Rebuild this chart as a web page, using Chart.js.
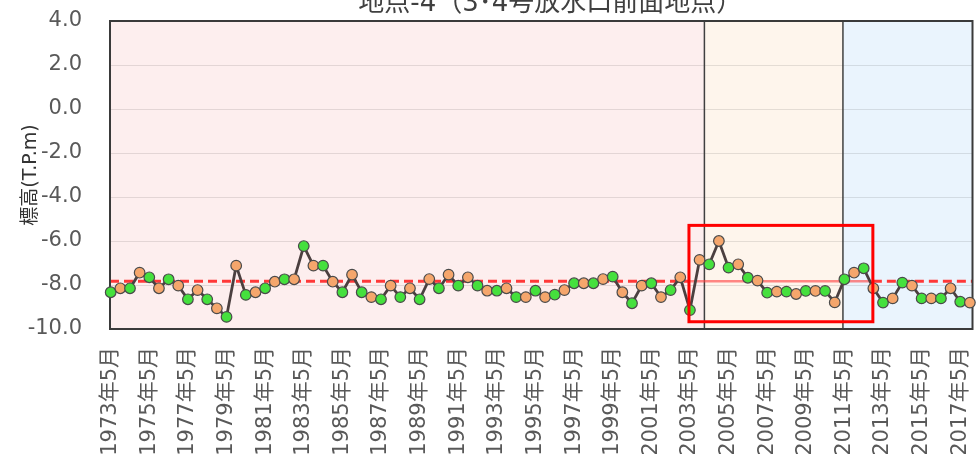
<!DOCTYPE html>
<html>
<head>
<meta charset="utf-8">
<script src="https://cdn.jsdelivr.net/npm/chart.js@4.4.1/dist/chart.umd.min.js"></script>
<style>
  html, body { margin: 0; padding: 0; background: #fff; overflow: hidden; }
  canvas { display: block; }
</style>
</head>
<body>
<canvas id="c" width="979" height="470"></canvas>
<script>
// Survey years (two surveys per year: May and November)
const SURVEY_YEARS = [1973,1974,1975,1976,1977,1978,1979,1980,1981,1982,1983,1984,1985,1986,1987,
  1988,1989,1990,1991,1992,1993,1994,1995,1996,1997,1998,1999,2000,2001,2002,2003,2004,2005,2006,
  2007,2008,2009,2010,2011,2012,2013,2014,2015,2016,2017];

// Elevation (T.P. m) measured in May
const MAY_VALUES = [-8.33,-8.15,-7.65,-7.74,-8.65,-8.65,-9.45,-8.45,-8.15,-7.74,-6.23,-7.12,-8.33,
  -8.33,-8.65,-8.55,-8.65,-8.15,-8.03,-8.03,-8.26,-8.55,-8.26,-8.44,-7.92,-7.92,-7.62,-8.83,-7.92,
  -8.23,-9.14,-7.06,-7.21,-7.67,-8.35,-8.30,-8.27,-8.27,-7.74,-7.24,-8.80,-7.89,-8.61,-8.61,-8.76];

// Elevation (T.P. m) measured in November
const NOV_VALUES = [-8.15,-7.44,-8.15,-8.03,-8.23,-9.06,-7.12,-8.33,-7.85,-7.74,-7.12,-7.85,-7.53,
  -8.55,-8.03,-8.15,-7.73,-7.53,-7.65,-8.26,-8.15,-8.55,-8.55,-8.23,-7.92,-7.73,-8.33,-8.03,-8.55,
  -7.65,-6.86,-6.00,-7.06,-7.80,-8.30,-8.41,-8.27,-8.79,-7.44,-8.15,-8.61,-8.03,-8.61,-8.15,-8.80];

// Axis tick labels (every second year)
const TICK_LABELS = ['1973年5月','1975年5月','1977年5月','1979年5月','1981年5月','1983年5月',
  '1985年5月','1987年5月','1989年5月','1991年5月','1993年5月','1995年5月','1997年5月','1999年5月',
  '2001年5月','2003年5月','2005年5月','2007年5月','2009年5月','2011年5月','2013年5月','2015年5月',
  '2017年5月'];
const Y_TICKS = [-10, -8, -6, -4, -2, 0, 2, 4];

const TITLE = '地点-4（3･4号放水口前面地点）';
const Y_TITLE = '標高(T.P.m)';

// Mean elevation over the whole record
const MEAN_LEVEL = -7.83;
// Period boundaries, in survey-index units
const PERIOD_BREAKS = [61.5, 75.85];
// Highlighted span (survey index / elevation)
const HIGHLIGHT = { from: 59.9, to: 78.95, top: -5.29, bottom: -9.67 };

const FONT = '"DejaVu Sans", "Noto Sans CJK JP", sans-serif';

// Interleave May / November surveys into one chronological series
const series = [];
const pointColors = [];
SURVEY_YEARS.forEach((yr, k) => {
  series.push({ x: 2 * k, y: MAY_VALUES[k] });
  pointColors.push('#45e03d');
  series.push({ x: 2 * k + 1, y: NOV_VALUES[k] });
  pointColors.push('#f5a66c');
});

// keep the plot area exactly where the axes put it (no label overhang padding)
function noPadding(s) {
  s.paddingLeft = 0; s.paddingRight = 0; s.paddingTop = 0; s.paddingBottom = 0;
}

const decor = {
  id: 'decor',
  beforeDraw(chart) {
    const { ctx, chartArea: a, scales: { x } } = chart;
    const b1 = x.getPixelForValue(PERIOD_BREAKS[0]);
    const b2 = x.getPixelForValue(PERIOD_BREAKS[1]);
    ctx.save();
    ctx.fillStyle = '#fdeeee';
    ctx.fillRect(a.left, a.top, b1 - a.left, a.height);
    ctx.fillStyle = '#fef5ec';
    ctx.fillRect(b1, a.top, b2 - b1, a.height);
    ctx.fillStyle = '#eaf4fd';
    ctx.fillRect(b2, a.top, a.right - b2, a.height);
    ctx.restore();
  },
  beforeDatasetsDraw(chart) {
    const { ctx, chartArea: a, scales: { x, y } } = chart;
    ctx.save();
    // period dividers
    ctx.strokeStyle = '#404040';
    ctx.lineWidth = 1.5;
    PERIOD_BREAKS.forEach(v => {
      const px = x.getPixelForValue(v);
      ctx.beginPath(); ctx.moveTo(px, a.top); ctx.lineTo(px, a.bottom); ctx.stroke();
    });
    // mean line: dashed, solid & lighter inside the highlighted span
    const my = y.getPixelForValue(MEAN_LEVEL);
    const h0 = x.getPixelForValue(HIGHLIGHT.from);
    const h1 = x.getPixelForValue(HIGHLIGHT.to);
    ctx.lineWidth = 3;
    ctx.strokeStyle = '#ff3838';
    ctx.setLineDash([9, 5]);
    ctx.beginPath(); ctx.moveTo(a.left, my); ctx.lineTo(h0, my); ctx.stroke();
    ctx.beginPath(); ctx.moveTo(h1, my); ctx.lineTo(a.right, my); ctx.stroke();
    ctx.setLineDash([]);
    ctx.lineWidth = 2.5;
    ctx.strokeStyle = 'rgba(255,60,60,0.6)';
    ctx.beginPath(); ctx.moveTo(h0, my); ctx.lineTo(h1, my); ctx.stroke();
    // plot frame
    ctx.strokeStyle = '#3a3a3a';
    ctx.lineWidth = 2;
    ctx.strokeRect(a.left, a.top, a.right - a.left, a.bottom - a.top);
    ctx.restore();
  },
  afterDatasetsDraw(chart) {
    const { ctx, scales: { x, y } } = chart;
    const x0 = x.getPixelForValue(HIGHLIGHT.from), x1 = x.getPixelForValue(HIGHLIGHT.to);
    const y0 = y.getPixelForValue(HIGHLIGHT.top), y1 = y.getPixelForValue(HIGHLIGHT.bottom);
    ctx.save();
    ctx.strokeStyle = '#ff0000';
    ctx.lineWidth = 3;
    ctx.strokeRect(x0, y0, x1 - x0, y1 - y0);
    ctx.restore();
  },
  afterDraw(chart) {
    const { ctx, chartArea: a } = chart;
    ctx.save();
    ctx.font = '26px ' + FONT;
    ctx.fillStyle = '#404040';
    ctx.textAlign = 'center';
    ctx.textBaseline = 'alphabetic';
    ctx.fillText(TITLE, (a.left + a.right) / 2 + 9, 11);
    ctx.restore();
  }
};

new Chart(document.getElementById('c'), {
  type: 'line',
  data: {
    datasets: [{
      data: series,
      borderColor: '#4b3f3f',
      borderWidth: 2.8,
      tension: 0,
      pointRadius: 5.3,
      pointHoverRadius: 5.3,
      pointBackgroundColor: pointColors,
      pointBorderColor: '#4a4a4a',
      pointBorderWidth: 1.2,
      clip: false
    }]
  },
  options: {
    responsive: false,
    animation: false,
    devicePixelRatio: 1,
    layout: { padding: { top: 21, right: 3, left: 0, bottom: 0 } },
    plugins: { legend: { display: false }, tooltip: { enabled: false }, title: { display: false } },
    scales: {
      x: {
        type: 'linear',
        min: -0.07,
        max: 89.27,
        afterBuildTicks: s => { s.ticks = TICK_LABELS.map((_, k) => ({ value: 4 * k })); },
        afterFit: s => { s.height = 141; noPadding(s); },
        ticks: {
          autoSkip: false, minRotation: 90, maxRotation: 90,
          color: '#595959', font: { size: 21, family: FONT }, padding: 18,
          callback: (v, i) => TICK_LABELS[i]
        },
        grid: { display: false, drawTicks: false },
        border: { display: false }
      },
      y: {
        min: Y_TICKS[0],
        max: Y_TICKS[Y_TICKS.length - 1],
        afterBuildTicks: s => { s.ticks = Y_TICKS.map(v => ({ value: v })); },
        afterFit: s => { s.width = 110; noPadding(s); },
        ticks: {
          color: '#595959', font: { size: 21, family: FONT }, padding: 28,
          callback: v => v.toFixed(1)
        },
        grid: { color: 'rgba(0,0,0,0.1)', drawTicks: false },
        border: { display: false },
        title: {
          display: true, text: Y_TITLE, color: '#333',
          font: { size: 19, family: FONT }, padding: { top: 20, bottom: 0 }
        }
      }
    }
  },
  plugins: [decor]
});
</script>
</body>
</html>
